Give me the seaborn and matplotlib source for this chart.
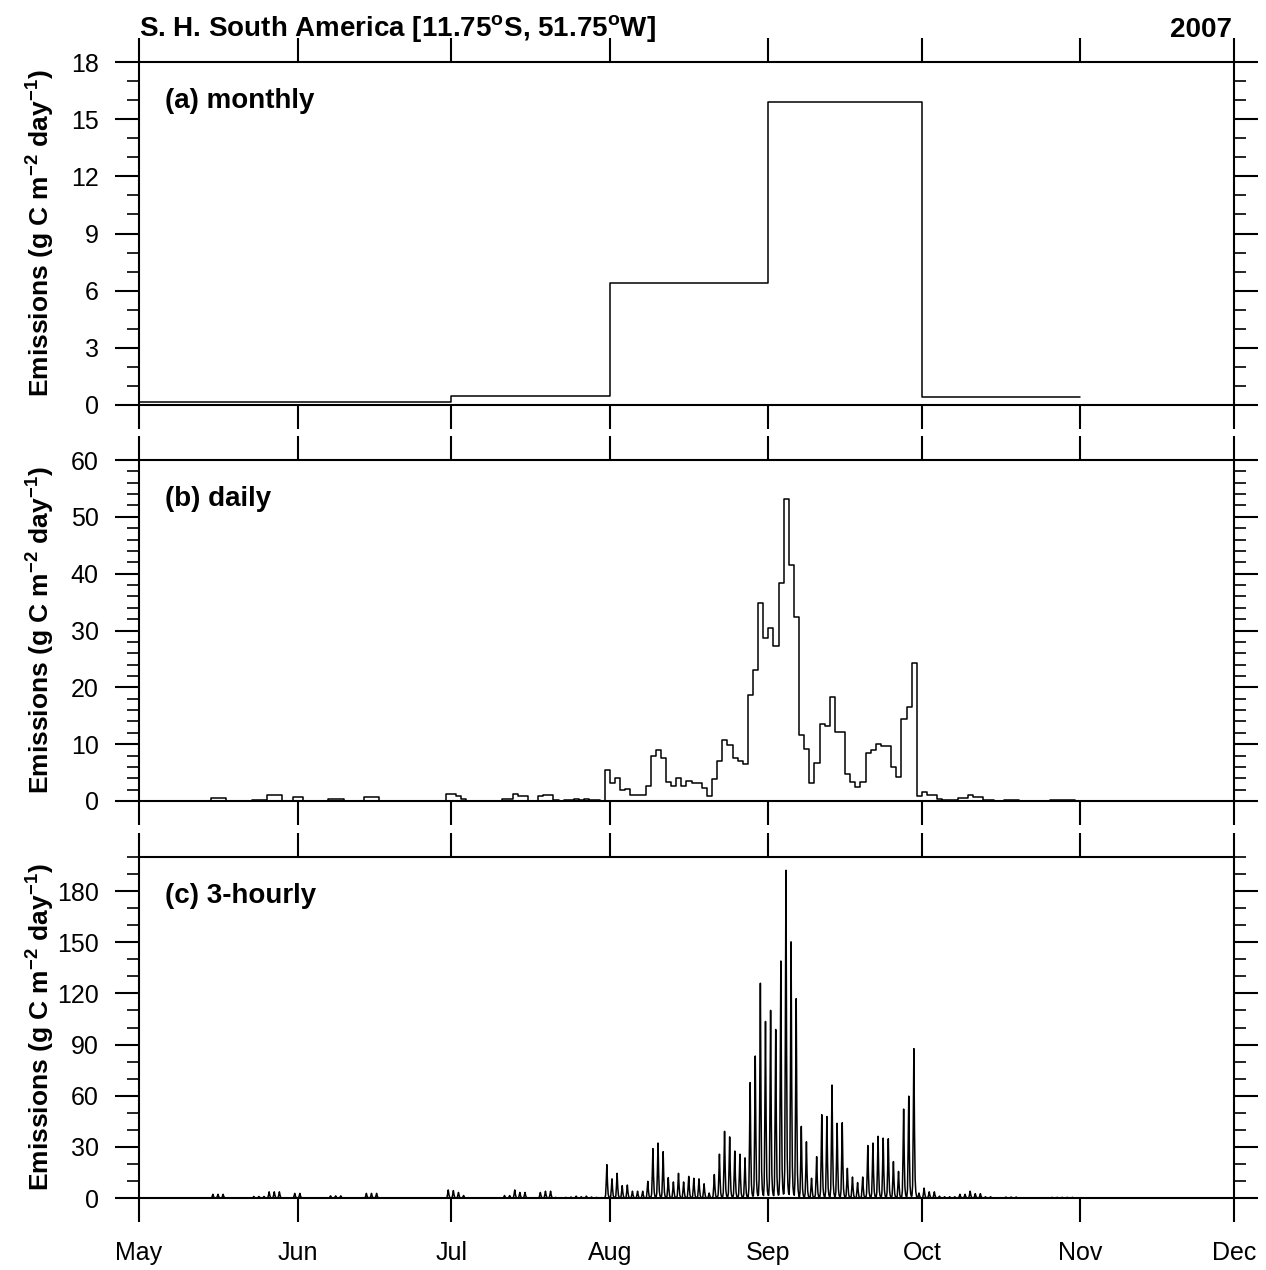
import numpy as np
import pandas as pd
import matplotlib
matplotlib.use("Agg")
import matplotlib.pyplot as plt
from matplotlib.ticker import MultipleLocator, FixedLocator, NullLocator
import seaborn as sns

# ---------------- data ----------------
month_labels = ["May", "Jun", "Jul", "Aug", "Sep", "Oct", "Nov", "Dec"]
month_start_day = [0, 31, 61, 92, 123, 153, 184, 214]   # day index from May 1, 2007

# monthly mean emissions (May..Oct)
monthly_values = [0.15, 0.15, 0.45, 6.4, 15.9, 0.4]

# daily emissions (g C m-2 day-1), one value per day
daily_may = [0]*14 + [0.6, 0.6, 0.6] + [0]*5 + [0.25, 0.25, 0.25] + [1.0, 1.0, 1.0] + [0, 0] + [0.75]
daily_jun = [0.75] + [0]*5 + [0.35, 0.35, 0.35] + [0]*4 + [0.75, 0.75, 0.75] + [0]*13 + [1.3]
daily_jul = [1.2, 0.9, 0.4, 0.05] + [0]*6 + [0.4, 0.4, 1.3, 0.9, 0.9, 0, 0, 0.9, 1.1, 1.1,
             0.1, 0.05, 0.1, 0.15, 0.3, 0.2, 0.3, 0.15, 0.1, 0.05, 5.4]
daily_aug = [3.1, 4.0, 2.0, 2.1, 1.1, 1.1, 1.1, 2.7, 8.0, 8.9, 7.5, 3.3, 2.6, 4.0, 2.6, 3.5,
             3.2, 3.1, 2.3, 0.8, 3.8, 7.1, 10.8, 9.9, 7.6, 7.1, 6.5, 18.7, 23.0, 34.8, 28.6]
daily_sep = [30.4, 27.3, 38.4, 53.1, 41.5, 32.3, 11.6, 9.1, 3.2, 6.7, 13.5, 13.2, 18.3, 12.1, 12.2,
             4.8, 3.4, 2.5, 3.4, 8.5, 8.9, 10.0, 9.7, 9.6, 5.9, 4.3, 14.4, 16.5, 24.2, 0.8]
daily_oct = [1.6, 1.0, 1.0, 0.3, 0.2, 0.2, 0.2, 0.6, 0.6, 1.1, 0.7, 0.7, 0.2, 0.2, 0.05, 0.05,
             0.15, 0.15, 0.15, 0.05, 0, 0, 0, 0, 0.05, 0.1, 0.1, 0.1, 0.1, 0.1, 0.05]
daily_nov = [0]*30

# diurnal profile of 3-hourly emissions relative to the daily mean (8 steps per day)
diurnal_profile = [0.05, 0.3, 1.75, 3.62, 1.62, 0.45, 0.15, 0.06]

# ---------------- build tables ----------------
daily_values = daily_may + daily_jun + daily_jul + daily_aug + daily_sep + daily_oct + daily_nov
n_days = len(daily_values)

df_month = pd.DataFrame({"day": month_start_day[:7],
                         "emis": monthly_values + [monthly_values[-1]]})
df_day = pd.DataFrame({"day": np.arange(n_days + 1),
                       "emis": daily_values + [daily_values[-1]]})
steps = len(diurnal_profile)
df_3h = pd.DataFrame({
    "day": (np.arange(n_days)[:, None] + (np.arange(steps)[None, :] + 0.5) / steps).ravel(),
    "emis": (np.array(daily_values)[:, None] * np.array(diurnal_profile)[None, :]).ravel(),
})

# ---------------- style ----------------
sns.set_theme(style="ticks")
plt.rcParams["font.family"] = ["Liberation Sans", "DejaVu Sans"]
plt.rcParams["mathtext.fontset"] = "custom"
plt.rcParams["mathtext.rm"] = "Liberation Sans"
plt.rcParams["mathtext.bf"] = "Liberation Sans:bold"
plt.rcParams["axes.linewidth"] = 1.5
plt.rcParams["text.color"] = "black"
plt.rcParams["axes.labelcolor"] = "black"
plt.rcParams["xtick.color"] = "black"
plt.rcParams["ytick.color"] = "black"
plt.rcParams["axes.edgecolor"] = "black"

fig = plt.figure(figsize=(12.66, 12.70), dpi=100)
W, H = 1266.0, 1270.0
left, right = 139, 1234
panels = [(62, 405), (460, 801), (857, 1198)]
axes = [fig.add_axes([left / W, 1 - b / H, (right - left) / W, (b - t) / H]) for t, b in panels]

ylabel = r"Emissions (g C m$^{\mathbf{-2}}$ day$^{\mathbf{-1}}$)"
specs = [
    (df_month, "steps-post", (0, 18), 3, 1, "(a) monthly"),
    (df_day, "steps-post", (0, 60), 10, 2, "(b) daily"),
    (df_3h, "default", (0, 200), 30, 10, "(c) 3-hourly"),
]

for i, (ax, (df, ds, ylim, maj, mnr, lab)) in enumerate(zip(axes, specs)):
    sns.lineplot(data=df, x="day", y="emis", ax=ax, color="black", linewidth=1.1,
                 estimator=None, drawstyle=ds)
    ax.set_xlim(0, 214)
    ax.set_ylim(*ylim)
    ax.xaxis.set_major_locator(FixedLocator(month_start_day))
    ax.xaxis.set_minor_locator(NullLocator())
    ax.yaxis.set_major_locator(MultipleLocator(maj))
    ax.yaxis.set_minor_locator(MultipleLocator(mnr))
    if i == 2:
        ax.set_yticks(np.arange(0, 181, 30))
    ax.tick_params(which="major", direction="out", length=17, width=1.5,
                   top=True, right=True, labelsize=18, pad=12,
                   colors="black", labelcolor="black")
    ax.tick_params(which="minor", direction="out", length=8.5, width=1.2,
                   top=True, right=True, colors="black")
    ax.tick_params(axis="x", which="major", pad=14)
    for s in ax.spines.values():
        s.set_visible(True)
        s.set_linewidth(1.5)
        s.set_color("black")
    if i < 2:
        ax.set_xticklabels([])
    else:
        ax.set_xticklabels(month_labels)
    ax.set_xlabel("")
    ax.set_ylabel(ylabel, fontsize=19, fontweight="bold", color="black")
    ax.yaxis.set_label_coords(-0.076, 0.5)
    ax.text(0.024, 0.887, lab, transform=ax.transAxes, fontsize=20, fontweight="bold",
            ha="left", va="center", color="black")

fig.text(left / W, 1 - 37 / H, r"S. H. South America [11.75$^{\mathbf{o}}$S, 51.75$^{\mathbf{o}}$W]",
         fontsize=20, fontweight="bold", ha="left", va="baseline", color="black")
fig.text(1232 / W, 1 - 37 / H, "2007", fontsize=20, fontweight="bold", ha="right",
         va="baseline", color="black")

fig.savefig("out.png", dpi=100, facecolor="white")
